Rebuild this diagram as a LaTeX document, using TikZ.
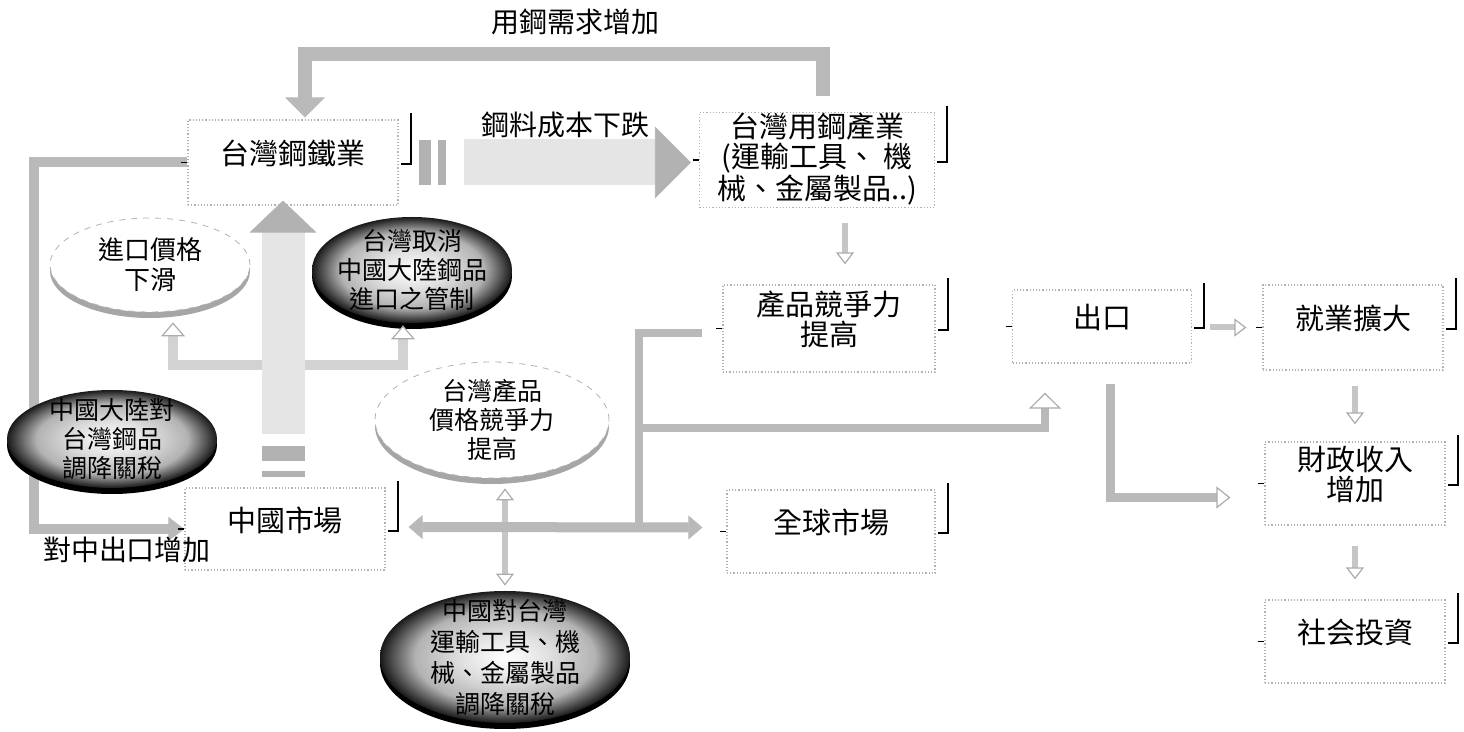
\documentclass[tikz,border=0pt]{standalone}
\usepackage{fontspec}
\setmainfont{Noto Sans CJK TC}
\usetikzlibrary{calc,arrows.meta,shapes.geometric,shadows,backgrounds}
\pgfdeclareradialshading{ovalshade}{\pgfpointorigin}{color(0bp)=(white); color(9bp)=(gray!25); color(18bp)=(gray!60); color(25bp)=(black!90); color(50bp)=(black!90)}

\begin{document}
\begin{tikzpicture}[x=0.5pt,y=-0.5pt,
    box/.style={draw=gray!60,densely dotted,line width=0.6pt,fill=white,inner sep=0pt,align=center,text depth=10pt,font=\fontsize{14.5}{15}\selectfont},
    oval/.style={ellipse,inner sep=-15pt,align=center,font=\fontsize{12.5}{14.5}\selectfont},
    lightoval/.style={oval,draw=gray!60,dashed,fill=white,drop shadow={shadow xshift=0pt,shadow yshift=-3pt,fill=gray!70,opacity=1}},
    darkoval/.style={oval,shade,shading=ovalshade,drop shadow={shadow xshift=0pt,shadow yshift=-3pt,fill=black,opacity=1}},
    lbl/.style={font=\fontsize{14}{16}\selectfont},
    band/.style={draw=gray!55,line width=#1},
    band/.default=5pt,
    smallarr/.style={draw=gray!45,line width=3pt,-{Triangle[width=9pt,length=6pt,fill=white,color=gray!65,line width=0.6pt]}}]
  \useasboundingbox (0,0) rectangle (1464,732);

  % boxes
  \node[box,minimum width=105pt,minimum height=42.5pt] (steel) at (293,162.5) {台灣鋼鐵業};
  \node[box,minimum width=117.5pt,minimum height=47pt,text depth=4pt] (user) at (817,160) {台灣用鋼產業\\(運輸工具、 機\\械、金屬製品..)};
  \node[box,minimum width=106pt,minimum height=43.5pt] (prod) at (829,328.5) {產品競爭力\\提高};
  \node[box,minimum width=89.5pt,minimum height=36.5pt] (export) at (1102,326.5) {出口};
  \node[box,minimum width=90pt,minimum height=42.5pt] (jobs) at (1353,327.5) {就業擴大};
  \node[box,minimum width=90pt,minimum height=41.5pt] (fiscal) at (1355,483.5) {財政收入\\增加};
  \node[box,minimum width=90pt,minimum height=41.5pt] (social) at (1355,641.5) {社会投資};
  \node[box,minimum width=104pt,minimum height=41.5pt] (globe) at (831,531.5) {全球市場};
  \node[box,minimum width=100pt,minimum height=41pt] (china) at (285,529) {中國市場};
  \foreach \b in {steel,user,prod,export,jobs,fiscal,social,globe,china} {
    \draw[line width=1pt] ($(\b.north east)+(12,-6)$) |- ($(\b.east)+(2,2)$);
    \draw[line width=0.6pt] ($(\b.west)+(-6,0)$) -- (\b.west);
  }

  % ovals
  \node[lightoval,minimum width=100pt,minimum height=47pt,font=\fontsize{13}{15}\selectfont] (price) at (150,265) {進口價格\\下滑};
  \node[darkoval,minimum width=100pt,minimum height=53pt] (cancel) at (412,270) {台灣取消\\中國大陸鋼品\\進口之管制};
  \node[darkoval,minimum width=105pt,minimum height=49pt] (tariffTW) at (112,439) {中國大陸對\\台灣鋼品\\調降關稅};
  \node[lightoval,minimum width=117pt,minimum height=58pt] (compete) at (492,420) {台灣產品\\價格競爭力\\提高};
  \node[darkoval,minimum width=125pt,minimum height=66pt,font=\fontsize{12.5}{15.5}\selectfont] (tariffCN) at (505,657) {中國對台灣\\運輸工具、機\\械、金屬製品\\調降關稅};

  % 用鋼需求增加
  \coordinate (demandturn) at ($(steel.north)+(12,-65)$);
  \draw[band=7pt,-{Triangle[width=20pt,length=10pt,line width=0.4pt]}] ($(user.north)+(6,-16)$) |- (demandturn) -- ($(steel.north)+(12,-2)$);
  \node[lbl] (demandlbl) at (575,22) {用鋼需求增加};

  % 對中出口增加
  \begin{pgfonlayer}{background}
    \draw[band=5pt,-{Triangle[width=12pt,length=8pt,line width=0.4pt]}] (steel.west) -- ++(-153,0) |- (china.west);
  \end{pgfonlayer}
  \node[lbl] (exportlbl) at (127,550) {對中出口增加};

  % 鋼料成本下跌
  \fill[gray!60] ($(steel.east)+(20,-22)$) rectangle ++(12,45);
  \fill[gray!60] ($(steel.east)+(39,-22)$) rectangle ++(8,45);
  \draw[draw=gray!20,line width=23pt,-{Triangle[width=36pt,length=18pt,fill=gray!60,color=gray!60,line width=0.4pt]}] ($(steel.east)+(65,0)$) -- ($(steel.east -| user.west)+(-8,0)$);
  \node[lbl] (costlbl) at (565,125) {鋼料成本下跌};

  % 中國市場 -> 台灣鋼鐵業
  \coordinate (fork) at ($(china.north)+(-2,-122)$);
  \draw[band=5pt,draw=gray!35,-{Triangle[width=12pt,length=7pt,fill=white,color=gray!65,line width=0.6pt]}] (fork) -| ($(price.south)+(23,10)$);
  \draw[band=5pt,draw=gray!35,-{Triangle[width=12pt,length=7pt,fill=white,color=gray!65,line width=0.6pt]}] (fork) -| ($(cancel.south)+(-9,2)$);
  \fill[gray!60] ($(china.north)+(-23,-41)$) rectangle ++(43,15);
  \fill[gray!60] ($(china.north)+(-23,-16)$) rectangle ++(43,6);
  \draw[draw=gray!20,line width=21.5pt,-{Triangle[width=33.5pt,length=16pt,fill=gray!60,color=gray!60,line width=0.4pt]}] ($(china.north)+(-2,-53)$) -- ($(steel.south)+(-10,-5)$);

  % markets
  \coordinate (hub) at ($(china.east -| tariffCN.north)+(0,-2)$);
  \coordinate (join) at ($(hub -| prod.west)+(-83,0)$);
  \draw[smallarr] (hub) -- ($(hub |- compete.south)+(0,10)$);
  \draw[smallarr] (hub) -- ($(hub |- tariffCN.north)+(0,-5)$);
  \draw[band=4pt] ($(prod.west)+(-20,5)$) -| (join);
  \draw[band=4pt,-{Triangle[width=16pt,length=8pt,fill=white,color=gray!65,line width=0.6pt]}] ($(join)+(0,-99)$) -| ($(export.south)+(-57,29)$);
  \draw[band=5pt,{Triangle[width=12pt,length=7pt,line width=0.4pt]}-{Triangle[width=12pt,length=7pt,line width=0.4pt]}] ($(china.east)+(23,-2)$) -- ($(globe.west)+(-24,-4)$);

  % 出口 -> 就業, 財政, 社会
  \draw[band=4.5pt,shorten >=17pt,-{Triangle[width=11pt,length=7pt,fill=white,color=gray!65,line width=0.6pt]}] ($(export.south)+(8,20)$) |- ($(fiscal.west)+(0,14)$);
  \draw[smallarr] ($(export.east)+(18,1)$) -- ($(jobs.west)+(-16,0)$);
  \draw[smallarr] ($(jobs.south)+(2,15)$) -- ($(fiscal.north)+(0,-17)$);
  \draw[smallarr] ($(fiscal.south)+(0,20)$) -- ($(social.north)+(0,-20)$);
  \draw[smallarr] ($(user.south)+(28,15)$) -- ($(prod.north)+(16,-20)$);
\end{tikzpicture}
\end{document}
